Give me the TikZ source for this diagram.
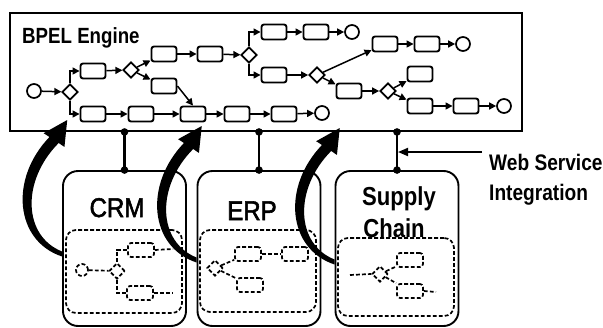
\documentclass[tikz,border=0pt]{standalone}
\usepackage{fontspec}
\setmainfont{Liberation Sans}
\newfontfamily\plainlbl[FakeStretch=0.89,FakeBold=2]{Liberation Sans}
\newfontfamily\narrowlbl[FakeStretch=0.85]{Liberation Sans}
\usetikzlibrary{arrows.meta,shapes.geometric,calc}

\tikzset{
  task/.style={draw, rounded corners=2.5pt, minimum width=25pt, minimum height=15pt,
    inner sep=0pt, line width=1.9pt},
  gw/.style={draw, diamond, minimum width=16pt, minimum height=16pt, inner sep=0pt,
    line width=1.7pt},
  ev/.style={draw, circle, minimum size=14pt, inner sep=0pt, line width=1.7pt},
  flow/.style={line width=1.5pt, -{Triangle[length=7pt,width=7pt]}},
  sketch/.style={line width=1.7pt, dash pattern=on 3.8pt off 2.2pt},
  flowbox/.style={draw, sketch, rounded corners=10pt, inner sep=0pt},
  sktask/.style={draw, sketch, rounded corners=3pt, minimum width=26pt,
    minimum height=14pt, inner sep=0pt},
  skgw/.style={draw, sketch, diamond, minimum width=16pt, minimum height=16pt,
    inner sep=0pt},
  skev/.style={draw, sketch, circle, minimum size=12pt, inner sep=0pt},
  appbox/.style={draw, rounded corners=15pt, line width=1.9pt, minimum width=123pt,
    minimum height=155pt, inner sep=0pt},
  link/.style={line width=2.3pt},
  wsarrow/.style={line width=1.8pt, -{Triangle[length=10pt,width=8pt]}},
  bigarrow/.pic={
    \fill (0,2.5) .. controls (-47,-13) and (-53,-75) .. (-12.6,-117)
      -- (-18.4,-120.8) -- (5.2,-134) -- (2.4,-107.1) -- (-3.4,-111)
      .. controls (-41,-73) and (-39,-18) .. (0,-2.5) -- cycle;
  }
}

\begin{document}
\begin{tikzpicture}[x=1pt, y=-1pt]
\useasboundingbox (0,0) rectangle (603,327);

% ---------- process engine ----------
\node[draw, line width=1.9pt, minimum width=512pt, minimum height=118pt, inner sep=0pt]
  (bpel) at (266,72) {};
\node[anchor=base west, inner sep=0pt, font=\narrowlbl\bfseries\fontsize{22}{26}\selectfont]
  (bpeltitle) at (22,43) {BPEL Engine};

% upper branches
\node[ev]   (s0)  at (34,91)  {};
\node[gw]   (g1)  at (70,92)  {};
\node[task] (t1)  at (93,71)  {};
\node[gw]   (g2)  at (131,70) {};
\node[task] (t2)  at (164,54) {};
\node[task] (t3)  at (210,54) {};
\node[gw]   (g3)  at (249,55) {};
\node[task] (t4)  at (274,32) {};
\node[task] (t5)  at (316,32) {};
\node[ev]   (e1)  at (352,32) {};
\node[task] (t6)  at (274,75) {};
\node[gw]   (g4)  at (317,75) {};
\node[task] (t7)  at (385,44) {};
\node[task] (t8)  at (427,44) {};
\node[ev]   (e2)  at (463,44) {};
\node[task] (t9)  at (349,91) {};
\node[gw]   (g5)  at (388,91) {};
\node[task] (t10) at (420,74) {};
\node[task] (t11) at (420,106) {};
\node[task] (t12) at (466,106) {};
\node[ev]   (e3)  at (504,106) {};
\node[task] (t13) at (164,86) {};
% lower row
\node[task] (b1)  at (93,114)  {};
\node[task] (b2)  at (141,114) {};
\node[task] (b3)  at (193,114) {};
\node[task] (b4)  at (237,114) {};
\node[task] (b5)  at (284,114) {};
\node[ev]   (e4)  at (322,113) {};

\draw[flow] (s0) -- (g1);
\draw[flow] (g1.north) |- (t1.west);
\draw[flow] (g1.south) |- (b1.west);
\draw[flow] (t1) -- (g2);
\draw[flow] (g2) -- (t2);
\draw[flow] (g2) -- (t13);
\draw[flow] (t2) -- (t3);
\draw[flow] (t3) -- (g3);
\draw[flow] (g3.north) |- (t4.west);
\draw[flow] (g3.south) |- (t6.west);
\draw[flow] (t4) -- (t5);
\draw[flow] (t5) -- (e1);
\draw[flow] (t6) -- (g4);
\draw[flow] (g4) -- (t7);
\draw[flow] (t7) -- (t8);
\draw[flow] (t8) -- (e2);
\draw[flow] (g4) -- (t9);
\draw[flow] (t9) -- (g5);
\draw[flow] (g5) -- (t10);
\draw[flow] (g5) -- (t11);
\draw[flow] (t11) -- (t12);
\draw[flow] (t12) -- (e3);
\draw[flow] (t13.east) -- (b3.north);
\draw[flow] (b1) -- (b2);
\draw[flow] (b2) -- (b3);
\draw[flow] (b3) -- (b4);
\draw[flow] (b4) -- (b5);
\draw[flow] (b5) -- (e4);

% ---------- applications ----------
\node[appbox] (crm) at (124.5,248.5) {};
\node[appbox] (erp) at (259,248.5) {};
\node[appbox] (sc)  at (397,248.5) {};

\node[anchor=base, inner sep=0pt, font=\plainlbl\fontsize{27}{30}\selectfont]
  (crmlbl) at (117,217) {CRM};
\node[anchor=base, inner sep=0pt, font=\plainlbl\fontsize{27}{30}\selectfont]
  (erplbl) at (252,220) {ERP};
\node[anchor=base, inner sep=0pt, font=\narrowlbl\bfseries\fontsize{26}{30}\selectfont]
  (sclbla) at (399,205) {Supply};
\node[anchor=base, inner sep=0pt, font=\narrowlbl\bfseries\fontsize{26}{30}\selectfont]
  (sclblb) at (394,237) {Chain};

% CRM internal process
\node[flowbox, minimum width=116pt, minimum height=83pt] (crmflow) at (124,271.5) {};
\node[skev]   (c0) at (82,270)  {};
\node[skgw]   (c1) at (117,271) {};
\node[sktask] (c2) at (141,250) {};
\node[sktask] (c3) at (140,293) {};
\coordinate (c2out) at (173,249);
\coordinate (c3out) at (173,293);
\draw[sketch] (c0) -- (c1);
\draw[sketch] (c1.north) |- (c2.west);
\draw[sketch] (c1.south) |- (c3.west);
\draw[sketch] (c2.east) -- (c2out);
\draw[sketch] (c3.east) -- (c3out);

% ERP internal process
\node[flowbox, minimum width=116pt, minimum height=82pt] (erpflow) at (258,271) {};
\node[skgw]   (r1) at (215,268) {};
\node[sktask] (r2) at (248,254) {};
\node[sktask] (r3) at (295,254) {};
\node[sktask] (r4) at (250,285) {};
\draw[sketch] (r1) -- (r2);
\draw[sketch] (r2) -- (r3);
\draw[sketch] (r1) -- (r4);

% supply chain internal process
\node[flowbox, minimum width=116pt, minimum height=78pt] (scflow) at (396,277) {};
\coordinate (s0in) at (350,275);
\node[skgw]   (s1) at (380,274) {};
\node[sktask] (s2) at (410,260) {};
\node[sktask] (s3) at (410,291) {};
\coordinate (s3out) at (436,292);
\draw[sketch] (s0in) -- (s1.west);
\draw[sketch] (s1) -- (s2);
\draw[sketch] (s1) -- (s3);
\draw[sketch] (s3.east) -- (s3out);

% ---------- web service links ----------
\foreach \app in {crm,erp,sc} {
  \draw[link] (\app.north) -- (\app.north |- bpel.south);
  \fill (\app.north) circle (3.8pt);
  \fill (\app.north |- bpel.south) circle (3.8pt);
}
\coordinate (wsfrom) at (482,152);
\draw[wsarrow, shorten >=1pt] (wsfrom) -- (wsfrom -| sc.north);
\node[anchor=base west, inner sep=0pt, font=\narrowlbl\bfseries\fontsize{22.5}{26}\selectfont]
  (wslbla) at (489,170) {Web Service};
\node[anchor=base west, inner sep=0pt, font=\narrowlbl\bfseries\fontsize{22.5}{26}\selectfont]
  (wslblb) at (489,200) {Integration};

% ---------- deployment arrows ----------
\pic at ($(crm.west)+(0,5.5)$) {bigarrow};
\pic at ($(erp.west)+(0,11.5)$) {bigarrow};
\pic at ($(sc.west)+(0,13.5)$) {bigarrow};
\end{tikzpicture}
\end{document}
